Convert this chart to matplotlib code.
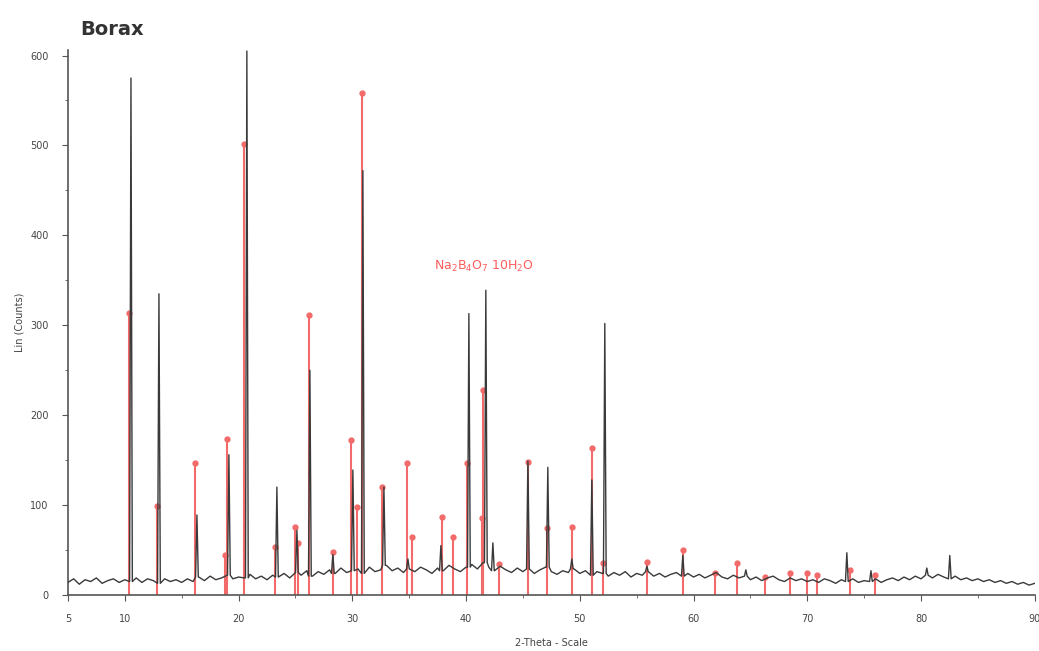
import numpy as np
import matplotlib
matplotlib.use("Agg")
import matplotlib.pyplot as plt
from matplotlib.ticker import FixedLocator, MultipleLocator

# Measured diffraction peaks (2-theta in degrees, counts)
peak_2theta = [10.54, 13.0, 16.34, 19.15, 20.73, 23.37, 25.13, 26.27, 28.29, 30.05,
               30.93, 32.78, 34.89, 37.79, 40.25, 41.74, 42.36, 45.44, 47.19, 49.30,
               51.06, 52.20, 55.9, 59.06, 64.6, 73.48, 75.6, 80.51, 82.53]
peak_counts = [575, 335, 89, 156, 605, 120, 72, 250, 45, 139,
               472, 120, 40, 55, 313, 339, 58, 149, 142, 40,
               128, 302, 32, 44, 28, 47, 27, 30, 44]

# Background level of the scan, sampled every 0.5 degrees from 5 to 90
background_counts = [
    14, 18, 12, 17, 15, 19, 13, 16, 18, 14, 17,
    15, 19, 14, 18, 16, 13, 18, 15, 17, 14,
    18, 15, 20, 16, 21, 17, 19, 22, 18, 20,
    19, 23, 18, 21, 17, 22, 20, 24, 19, 25,
    22, 27, 21, 26, 23, 28, 24, 30, 25, 27,
    29, 24, 31, 26, 28, 33, 27, 30, 25, 29,
    26, 31, 28, 24, 30, 27, 33, 29, 26, 31,
    34, 29, 36, 31, 27, 32, 28, 25, 30, 26,
    29, 24, 28, 31, 26, 23, 27, 25, 29, 24,
    27, 22, 26, 24, 21, 25, 22, 26, 20, 24,
    22, 26, 21, 24, 20, 23, 25, 21, 24, 20,
    23, 19, 22, 25, 20, 18, 22, 19, 21, 17,
    20, 16, 19, 21, 17, 15, 19, 16, 18, 15,
    17, 14, 18, 16, 13, 17, 15, 18, 14, 16,
    15, 18, 14, 17, 19, 16, 20, 17, 21, 18,
    22, 19, 23, 20, 18, 21, 17, 19, 16, 18,
    15, 17, 14, 16, 13, 15, 12, 14, 11, 13,
]

# Reference pattern lines (2-theta in degrees, relative counts)
ref_2theta = [10.36, 12.82, 16.16, 18.80, 18.98, 20.47, 23.20, 24.95, 25.20, 26.18,
              28.29, 29.88, 30.40, 30.84, 32.60, 34.80, 35.24, 37.88, 38.84, 40.07,
              41.39, 41.48, 42.90, 45.44, 47.10, 49.30, 51.06, 52.03, 55.90, 59.06,
              61.87, 63.80, 66.27, 68.47, 69.96, 70.84, 73.74, 75.94]
ref_counts = [314, 99, 147, 45, 174, 502, 53, 76, 58, 311,
              48, 172, 98, 558, 120, 147, 64, 87, 64, 147,
              86, 228, 35, 148, 74, 76, 163, 36, 37, 50,
              24, 36, 20, 24, 24, 22, 28, 22]

x_major = [5, 10, 20, 30, 40, 50, 60, 70, 80, 90]
x_labels = ["5", "10", "20", "30", "40", "50", "60", "70", "80", "90"]
y_major = [0, 100, 200, 300, 400, 500, 600]

# Assemble the measured scan as one continuous trace
scan_step = 0.5
background_2theta = 5.0 + scan_step * np.arange(len(background_counts))
half_width = 0.12
pts = []
for x, y in zip(background_2theta, background_counts):
    if all(abs(x - p) > half_width for p in peak_2theta):
        pts.append((x, y))
for p, h in zip(peak_2theta, peak_counts):
    base = background_counts[int(round((p - 5.0) / scan_step))]
    pts += [(p - half_width, base), (p, h), (p + half_width, base)]
pts.sort()
scan_x = [q[0] for q in pts]
scan_y = [q[1] for q in pts]

fig = plt.figure(figsize=(10.39, 6.51), dpi=100)
ax = fig.add_axes([0.0654, 0.086, 0.9305, 0.837])

ax.vlines(ref_2theta, 0, ref_counts, color="#f26a6a", lw=1.5, zorder=2)
ax.plot(ref_2theta, ref_counts, ls="none", marker="o", ms=3.5,
        color="#f26a6a", zorder=3)
ax.plot(scan_x, scan_y, color="#3a3a3a", lw=1.0, zorder=4)

ax.set_xlim(5, 90)
ax.set_ylim(0, 606)
ax.xaxis.set_major_locator(FixedLocator(x_major))
ax.set_xticklabels(x_labels)
ax.xaxis.set_minor_locator(FixedLocator([15, 25, 35, 45, 55, 65, 75, 85]))
ax.yaxis.set_major_locator(FixedLocator(y_major))
ax.yaxis.set_minor_locator(MultipleLocator(50))

for side in ("top", "right"):
    ax.spines[side].set_visible(False)
for side in ("left", "bottom"):
    ax.spines[side].set_color("#555555")
    ax.spines[side].set_linewidth(1.2)
ax.tick_params(which="both", direction="out", colors="#555555",
               labelcolor="#444444", labelsize=7)
ax.tick_params(which="major", length=4, pad=10)
ax.tick_params(which="minor", length=2)

ax.set_ylabel("Lin (Counts)", fontsize=7, color="#444444", labelpad=4)
ax.set_xlabel("2-Theta - Scale", fontsize=7, color="#444444", labelpad=10)

fig.text(0.077, 0.954, "Borax", fontsize=14, fontweight="bold",
         color="#333333", ha="left", va="center")
ax.text(41.6, 365, r"Na$_2$B$_4$O$_7$ 10H$_2$O", color="#ff5c5c",
        fontsize=9, ha="center", va="center")

fig.savefig("out.png", dpi=100)
